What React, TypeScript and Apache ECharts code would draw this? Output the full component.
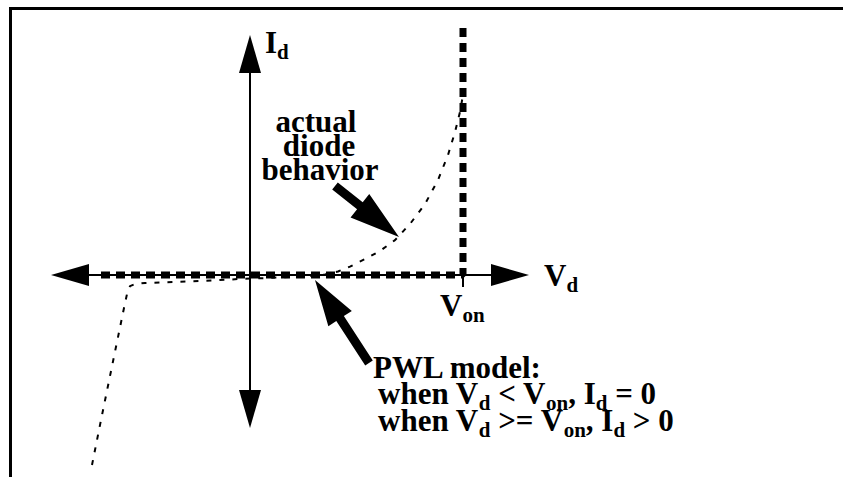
import React, { useEffect, useRef } from "react";
import * as echarts from "echarts";

// Axis extents (abstract units: x ~ diode voltage, y ~ diode current)
const X_MIN = -0.9;
const X_MAX = 1.3;
const Y_MAX = 10;
const Y_MIN = -6.063;
const V_ON = 1.065;

// Piecewise-linear model: I = 0 below Von, vertical at Von
const pwlModel: [number, number][] = [
  [-0.745, 0],
  [V_ON, 0],
  [V_ON, 11.22],
];

// Small tick marking Von on the horizontal axis
const vonTick: [number, number][] = [
  [V_ON, 0],
  [V_ON, -0.54],
];

// Actual diode behaviour (breakdown on the left, exponential on the right)
const actualDiode: [number, number][] = [
  [-0.79, -8.6],
  [-0.745, -6.56],
  [-0.7, -4.57],
  [-0.66, -2.81],
  [-0.63, -1.49],
  [-0.615, -0.86],
  [-0.6, -0.5],
  [-0.575, -0.41],
  [-0.525, -0.36],
  [-0.425, -0.33],
  [-0.3, -0.29],
  [-0.175, -0.24],
  [-0.05, -0.18],
  [0.075, -0.14],
  [0.2, -0.09],
  [0.3, -0.045],
  [0.375, 0.02],
  [0.44, 0.16],
  [0.5, 0.38],
  [0.575, 0.72],
  [0.65, 1.09],
  [0.725, 1.58],
  [0.8, 2.31],
  [0.875, 3.21],
  [0.94, 4.3],
  [0.99, 5.43],
  [1.025, 6.47],
  [1.05, 7.38],
  [1.065, 8.14],
];

// Text labels (rich-text with subscripts)
const labelId = "{n|I}{s|d}";
const labelVd = "{n|V}{s|d}";
const labelVon = "{n|V}{s|on}";
const labelActual = ["actual", "diode", "behavior"];
const labelPwl = [
  "{n|PWL model:}",
  "{n|when V}{s|d}{n| < V}{s|on}{n|, I}{s|d}{n| = 0}",
  "{n|when V}{s|d}{n| >= V}{s|on}{n|, I}{s|d}{n| > 0}",
];

const FONT = "Liberation Serif";
const FS = 31;
const SUB_FS = 21;

const rich = {
  n: {
    fontFamily: FONT,
    fontWeight: "bold",
    fontSize: FS,
    lineHeight: 26,
    verticalAlign: "top",
    color: "#000",
  },
  s: {
    fontFamily: FONT,
    fontWeight: "bold",
    fontSize: SUB_FS,
    lineHeight: 16,
    padding: [15, 0, 0, 0],
    verticalAlign: "top",
    color: "#000",
  },
};

// main baseline = top + 13 + 0.3375*FS
const BASE_OFF = 13 + 0.3375 * FS;
const txt = (text: string, x: number, baseline: number, align = "left") => ({
  type: "text",
  x,
  y: baseline - BASE_OFF,
  silent: true,
  z: 10,
  style: {
    text,
    rich,
    fontFamily: FONT,
    fontWeight: "bold",
    fontSize: FS,
    align,
    verticalAlign: "top",
    fill: "#000",
  },
});

function arrowPoly(
  tail: number[],
  tip: number[],
  shaftW: number,
  headL: number,
  headHalf: number
) {
  const dx = tip[0] - tail[0];
  const dy = tip[1] - tail[1];
  const len = Math.hypot(dx, dy);
  const ux = dx / len;
  const uy = dy / len;
  const nx = -uy;
  const ny = ux;
  const bx = tip[0] - ux * headL;
  const by = tip[1] - uy * headL;
  const h = shaftW / 2;
  return {
    type: "polygon",
    silent: true,
    z: 10,
    shape: {
      points: [
        [tail[0] + nx * h, tail[1] + ny * h],
        [bx + nx * h, by + ny * h],
        [bx + nx * headHalf, by + ny * headHalf],
        [tip[0], tip[1]],
        [bx - nx * headHalf, by - ny * headHalf],
        [bx - nx * h, by - ny * h],
        [tail[0] - nx * h, tail[1] - ny * h],
      ],
    },
    style: { fill: "#000" },
  };
}

export default function App() {
  const ref = useRef<HTMLDivElement>(null);

  useEffect(() => {
    if (!ref.current) return;
    const chart = echarts.init(ref.current, undefined, { renderer: "svg" });
    const axisCommon = {
      type: "value",
      axisLine: {
        show: true,
        onZero: true,
        symbol: ["triangle", "triangle"],
        symbolSize: [22, 38],
        lineStyle: { color: "#000", width: 2 },
      },
      axisTick: { show: false },
      axisLabel: { show: false },
      splitLine: { show: false },
    };
    chart.setOption({
      animation: false,
      backgroundColor: "#fff",
      grid: { left: 70, right: 333, top: 54, bottom: 68 },
      xAxis: { ...axisCommon, min: X_MIN, max: X_MAX },
      yAxis: { ...axisCommon, min: Y_MIN, max: Y_MAX },
      series: [
        {
          type: "line",
          data: actualDiode,
          symbol: "none",
          clip: false,
          z: 2,
          lineStyle: { color: "#000", width: 2, type: [5, 8] },
        },
        {
          type: "line",
          data: pwlModel,
          symbol: "none",
          clip: false,
          z: 3,
          lineStyle: { color: "#000", width: 7, type: [9, 6], cap: "butt" },
        },
        {
          type: "line",
          data: vonTick,
          symbol: "none",
          clip: false,
          z: 3,
          lineStyle: { color: "#000", width: 2 },
        },
      ],
      graphic: [
        {
          type: "polyline",
          silent: true,
          shape: {
            points: [
              [10.5, 477],
              [10.5, 8.5],
              [843, 8.5],
            ],
          },
          style: { stroke: "#000", lineWidth: 3, fill: null },
        },
        arrowPoly([335, 186], [399, 237], 9, 50, 15),
        arrowPoly([369, 363], [315, 280], 9, 46, 14),
        txt(labelId, 265, 50),
        txt(labelVd, 544, 283),
        txt(labelVon, 440, 313),
        txt(`{n|${labelActual[0]}}`, 316, 129, "center"),
        txt(`{n|${labelActual[1]}}`, 319, 153, "center"),
        txt(`{n|${labelActual[2]}}`, 320, 177, "center"),
        txt(labelPwl[0], 373, 375),
        txt(labelPwl[1], 378, 401),
        txt(labelPwl[2], 378, 428),
      ],
    });
    return () => chart.dispose();
  }, []);

  return (
    <div
      ref={ref}
      style={{ position: "absolute", left: 0, top: 0, width: 843, height: 477 }}
    />
  );
}
